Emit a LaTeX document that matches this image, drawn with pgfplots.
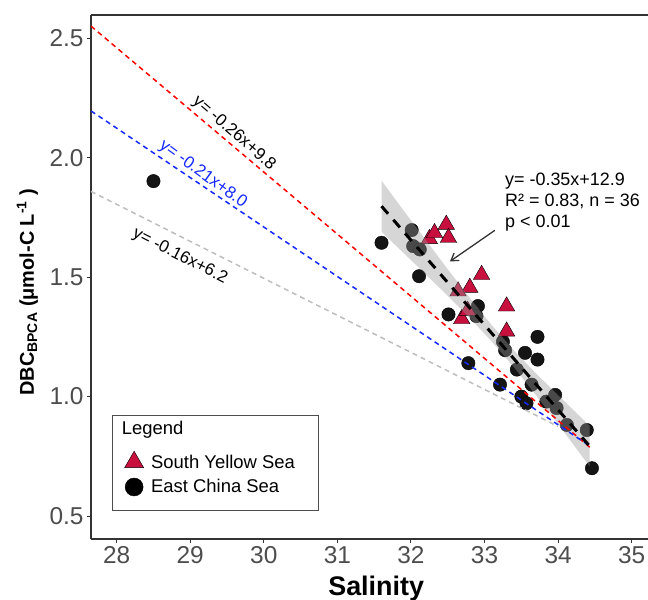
\documentclass[border=0pt]{standalone}
\usepackage{fontspec}
\setmainfont{Liberation Sans}
\usepackage{pgfplots}
\pgfplotsset{compat=1.18}
\usetikzlibrary{arrows.meta}
\definecolor{syscol}{RGB}{200,16,62}
\definecolor{bandcol}{RGB}{153,153,153}
\definecolor{axcol}{RGB}{51,51,51}
\definecolor{tickcol}{RGB}{77,77,77}
\definecolor{linegray}{RGB}{190,190,190}
\definecolor{lineblue}{RGB}{20,40,255}
\begin{document}
\begin{tikzpicture}
\begin{axis}[
  name=main,
  scale only axis, width=557bp, height=524bp,
  xmin=27.651, xmax=35.222, ymin=0.4037, ymax=2.5976,
  axis x line*=bottom, axis y line*=left,
  axis line style={axcol, line width=1.2bp},
  tick align=outside,
  major tick length=4bp,
  tick style={axcol, line width=1bp},
  xtick={28,29,30,31,32,33,34,35},
  ytick={0.5,1.0,1.5,2.0,2.5},
  y tick label style={/pgf/number format/.cd, fixed, fixed zerofill, precision=1, /tikz/.cd},
  ticklabel style={font=\fontsize{24.5}{28}\selectfont, text=tickcol},
  /pgf/number format/assume math mode=true,
  xlabel={\textbf{Salinity}},
  xlabel style={at={(axis description cs:0.512,-0.1069)}, anchor=base, font=\fontsize{27}{32}\selectfont},
  ylabel={\textbf{DBC\textsubscript{BPCA} (μmol-C L\textsuperscript{-1} )}},
  ylabel style={at={(axis description cs:-0.114,0.471)}, anchor=center, font=\fontsize{20}{24}\selectfont},
  clip mode=individual,
  legend style={at={(rel axis cs:0.060,0.168)}, anchor=north west, draw=none, fill=none,
    font=\fontsize{18.5}{21}\selectfont, inner sep=0pt, row sep=6bp,
    /tikz/every odd column/.append style={column sep=5.5bp}},
  legend cell align=left,
]
% East China Sea points
\addplot[only marks, mark=*, mark size=6.7bp, mark options={fill=black!92, draw=none}, forget plot] table {
x y
28.50 1.902
31.60 1.644
32.01 1.697
32.03 1.630
32.12 1.616
32.11 1.504
32.51 1.344
32.91 1.379
32.89 1.337
32.78 1.140
33.25 1.230
33.28 1.194
33.72 1.250
33.55 1.183
33.72 1.155
33.44 1.113
33.64 1.050
33.21 1.050
33.50 1.000
33.57 0.972
33.84 0.979
33.96 1.007
33.98 0.952
34.12 0.881
34.39 0.860
34.46 0.700
};
% South Yellow Sea points
\addplot[only marks, mark=triangle*, mark size=9.5bp, mark options={fill=syscol, draw=none}, forget plot] table {
x y
32.25 1.660
32.32 1.685
32.48 1.720
32.51 1.665
32.96 1.510
32.80 1.456
32.64 1.441
32.69 1.325
32.77 1.360
33.30 1.378
33.30 1.273
};
% confidence band
\addplot[fill=bandcol, fill opacity=0.4, draw=none, forget plot] coordinates {
(31.6,1.904) (31.9,1.779) (32.2,1.656) (32.5,1.533) (32.8,1.413) (33.1,1.298)
(33.4,1.193) (33.7,1.097) (34.0,1.006) (34.2,0.946) (34.43,0.877)
(34.43,0.707) (34.2,0.802) (34.0,0.885) (33.7,1.005) (33.4,1.123) (33.1,1.230)
(32.8,1.329) (32.5,1.422) (32.2,1.512) (31.9,1.601) (31.6,1.690)
} -- cycle;
% reference lines
\addplot[red, line width=1.5bp, dash pattern=on 5bp off 4bp, forget plot] coordinates {(27.651,2.551) (34.43,0.788)};
\addplot[lineblue, line width=1.5bp, dash pattern=on 5bp off 4bp, forget plot] coordinates {(27.651,2.196) (34.43,0.793)};
\addplot[linegray, line width=1.5bp, dash pattern=on 5bp off 4bp, forget plot] coordinates {(27.651,1.859) (34.0,0.875)};
% regression
\addplot[black, line width=3bp, dash pattern=on 10bp off 8bp, forget plot] coordinates {(31.6,1.797) (34.43,0.792)};
% legend entries
\addlegendimage{only marks, mark=triangle*, mark size=11bp, mark options={fill=syscol, draw=none}}
\addlegendentry{South Yellow Sea}
\addlegendimage{only marks, mark=*, mark size=9bp, mark options={fill=black, draw=none}}
\addlegendentry{East China Sea}
% frame top
\draw[axcol, line width=1.2bp] (rel axis cs:0,1) -- (rel axis cs:1,1);
% line labels
\node[rotate=-41, font=\fontsize{17}{20}\selectfont] at (axis cs:29.594,2.102) {y= -0.26x+9.8};
\node[rotate=-36, font=\fontsize{17}{20}\selectfont, text=lineblue] at (axis cs:29.173,1.930) {y= -0.21x+8.0};
\node[rotate=-27, font=\fontsize{17}{20}\selectfont] at (axis cs:28.86,1.587) {y= -0.16x+6.2};
% annotation
\node[anchor=base west, inner sep=0pt, font=\fontsize{18}{22}\selectfont] at (axis cs:33.278,1.884) {y= -0.35x+12.9};
\node[anchor=base west, inner sep=0pt, font=\fontsize{18}{22}\selectfont] at (axis cs:33.278,1.796) {R² = 0.83, n = 36};
\node[anchor=base west, inner sep=0pt, font=\fontsize{18}{22}\selectfont] at (axis cs:33.278,1.706) {p < 0.01};
\draw[axcol, line width=1.3bp, -{Straight Barb[length=7bp, width=9bp]}] (axis cs:33.14,1.696) -- (axis cs:32.53,1.566);
% legend box and title
\draw[tickcol, line width=1bp] (rel axis cs:0.039,0.0553) rectangle (rel axis cs:0.408,0.2366);
\node[anchor=base west, inner sep=0pt, font=\fontsize{18.5}{21}\selectfont] at (rel axis cs:0.0551,0.1985) {Legend};
\end{axis}
\pgfresetboundingbox
\path[use as bounding box] ([shift={(-91bp,-61bp)}]main.south west) rectangle ([shift={(0bp,15bp)}]main.north east);
\end{tikzpicture}
\end{document}
